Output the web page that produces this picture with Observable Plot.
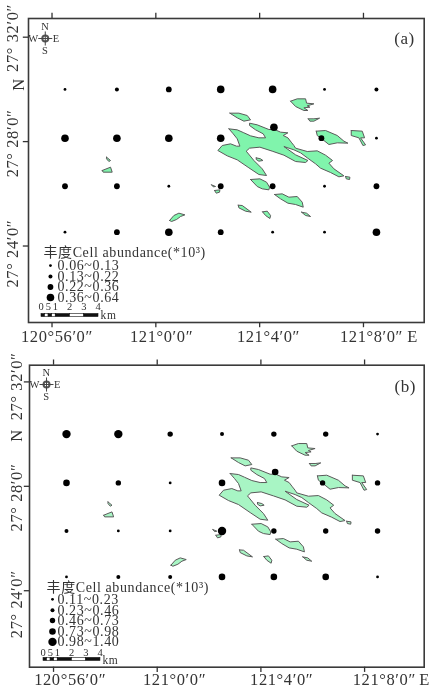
<!DOCTYPE html>
<html>
<head>
<meta charset="utf-8">
<script src="https://cdn.jsdelivr.net/npm/d3@7"></script>
<script src="https://cdn.jsdelivr.net/npm/@observablehq/plot@0.6"></script>
<style>
  html, body { margin: 0; padding: 0; background: #fff; overflow: hidden; }
  svg { display: block; filter: blur(0.35px); }
</style>
</head>
<body>
<div id="chart"></div>
<script>
// Map coordinates: longitude in minutes east of 120°56', latitude in minutes north of 27°24'.
const lonTicks = [0, 4, 8, 12];
const lonTickLabels = ["120°56′0″", "121°0′0″", "121°4′0″", "121°8′0″"];
const latTicks = [0, 4, 8];
const latTickLabels = ["27° 24′0″", "27° 28′0″", "27° 32′0″"];

// Sampling stations, row by row from north to south.
const stationLon = [
  0.5, 2.5, 4.5, 6.5, 8.5, 10.5, 12.5,
  0.5, 2.5, 4.5, 6.5, 8.55, 10.38, 12.5,
  0.5, 2.5, 4.5, 6.5, 8.5, 10.5, 12.5,
  0.5, 2.5, 4.5, 6.5, 8.5, 10.5, 12.5
];
const stationLat = [
  6.0, 6.0, 6.0, 6.0, 6.0, 6.0, 6.0,
  4.13, 4.13, 4.13, 4.13, 4.55, 4.13, 4.13,
  2.29, 2.29, 2.29, 2.29, 2.29, 2.29, 2.29,
  0.53, 0.53, 0.53, 0.53, 0.53, 0.53, 0.53
];
const abundanceA = [
  0.10, 0.18, 0.30, 0.55, 0.45, 0.09, 0.18,
  0.45, 0.45, 0.45, 0.55, 0.50, 0.30, 0.09,
  0.25, 0.30, 0.10, 0.30, 0.25, 0.10, 0.25,
  0.09, 0.30, 0.50, 0.30, 0.12, 0.10, 0.60
];
const abundanceB = [
  1.20, 1.20, 0.60, 0.35, 0.60, 0.60, 0.17,
  0.85, 0.60, 0.17, 0.85, 0.85, 0.60, 0.60,
  0.35, 0.17, 0.17, 1.20, 0.60, 0.60, 0.60,
  0.17, 0.40, 0.40, 0.85, 0.85, 0.85, 0.17
];

// Legends
const classLabelsA = ["0.06~0.13", "0.13~0.22", "0.22~0.36", "0.36~0.64"];
const classValuesA = [0.10, 0.18, 0.30, 0.50];
const classBreaksA = [0.13, 0.22, 0.36];
const classRadiiA = [1.4, 2, 2.9, 3.8];
const classLabelsB = ["0.11~0.23", "0.23~0.46", "0.46~0.73", "0.73~0.98", "0.98~1.40"];
const classValuesB = [0.17, 0.35, 0.60, 0.85, 1.20];
const classBreaksB = [0.23, 0.46, 0.73, 0.98];
const classRadiiB = [1.4, 2, 2.7, 3.3, 4.2];
const legendTitle = "丰度Cell abundance(*10³)";

// Scale bar, in kilometres
const scaleLabels = ["0", "5", "1", "2", "3", "4"];
const scaleLabelKm = [0, 0.5, 1, 2, 3, 4];
const scaleStart = [0, 0.25, 0.5, 0.75, 1, 2, 3];
const scaleEnd = [0.25, 0.5, 0.75, 1, 2, 3, 4];
const scaleDark = [true, false, true, false, true, false, true];
const lonPerKm = 0.549;

// Island outlines on a local survey grid (east, south).
const islandOutlines = [
  [[85,145],[110,148],[128,156],[150,166],[175,172],[195,172],[188,160],[165,148],[147,135],[147,128],[170,133],[205,147],[222,147],[240,155],[262,157],[248,165],[262,172],[272,185],[280,195],[285,203],[320,213],[350,211],[375,224],[396,240],[385,248],[400,265],[430,286],[415,289],[390,276],[360,263],[345,250],[320,232],[300,217],[280,208],[250,198],[285,223],[322,240],[315,246],[285,243],[250,224],[215,212],[178,200],[147,203],[137,212],[160,240],[185,265],[198,285],[175,282],[145,262],[110,238],[80,226],[52,210],[65,195],[90,190],[108,197],[118,197],[110,175],[98,160]],
  [[88,98],[115,98],[140,105],[150,118],[130,122],[110,112]],
  [[167,232],[180,235],[187,240],[175,242],[167,237]],
  [[270,62],[290,55],[315,55],[318,68],[340,70],[320,76],[328,80],[310,82],[322,90],[310,90],[285,78]],
  [[323,115],[340,115],[357,113],[340,122],[328,122]],
  [[347,152],[375,150],[410,165],[430,182],[442,188],[410,187],[385,192],[370,180],[350,165]],
  [[452,150],[485,152],[492,172],[480,172],[495,193],[487,195],[475,172],[452,165]],
  [[435,288],[448,290],[447,297],[437,295]],
  [[150,297],[178,295],[198,305],[207,320],[205,328],[185,325],[170,318]],
  [[222,342],[245,340],[265,350],[290,348],[305,365],[308,380],[285,372],[262,368],[240,355]],
  [[113,374],[125,375],[152,395],[135,392],[115,382]],
  [[186,394],[200,392],[210,405],[208,414],[195,405]],
  [[303,395],[318,398],[330,408],[315,405]],
  [[33,313],[45,318],[38,319]],
  [[42,330],[58,328],[57,335],[47,338]],
  [[-295,270],[-270,260],[-265,275],[-292,275]],
  [[-282,230],[-270,240],[-275,243],[-282,235]],
  [[-93,420],[-80,405],[-65,398],[-47,403],[-60,408],[-72,417],[-87,423]]
];
const gridOriginLon = 5.723, gridOriginLat = 6.341, gridPerMinuteE = 77.85, gridPerMinuteS = 78.3;

const islandRows = islandOutlines.flatMap((ring, island) =>
  [...ring, ring[0]].map(([e, s]) => ({
    island,
    lon: gridOriginLon + e / gridPerMinuteE,
    lat: gridOriginLat - s / gridPerMinuteS
  }))
);

const ink = "#333";
const serif = "'Liberation Serif','Noto Sans CJK SC',serif";

function panel(p) {
  const stations = stationLon.map((lon, i) => ({ lon, lat: stationLat[i], value: p.values[i] }));
  const legendRows = p.classLabels.map((label, i) => ({ label, value: p.classValues[i], lat: p.legendLat[i] }));
  const segments = scaleStart.map((s, i) => ({
    x1: p.barLon + s * lonPerKm, x2: p.barLon + scaleEnd[i] * lonPerKm, dark: scaleDark[i]
  }));
  const scaleText = scaleLabels.map((label, i) => ({ label, lon: p.barLon + scaleLabelKm[i] * lonPerKm }));
  const lonLabels = lonTickLabels.map((label, i) => ({ label, lon: p.lonLabelAt[i] }));
  const latLabels = latTickLabels.map((label, i) => ({ label, lat: p.latLabelAt[i] }));
  const [cLon, cLat] = p.compass;
  const [xMin, xMax] = p.xDomain;
  const [yMin, yMax] = p.yDomain;
  const tickSpan = 0.2;

  return Plot.plot({
    width: 429, height: 346,
    marginLeft: p.marginLeft, marginRight: 5.3, marginTop: p.marginTop, marginBottom: p.marginBottom,
    x: { domain: p.xDomain, axis: null },
    y: { domain: p.yDomain, axis: null },
    r: { type: "threshold", domain: p.breaks, range: p.radii },
    style: { fontFamily: serif, letterSpacing: "0.6px", background: "#fff", color: ink },
    marks: [
      Plot.line(islandRows, { x: "lon", y: "lat", z: "island", fill: p.islandFill, stroke: "#5a5a5a", strokeWidth: 1, curve: "linear" }),
      Plot.dot(stations, { x: "lon", y: "lat", r: "value", fill: "black" }),
      Plot.frame({ stroke: "#3a3a3a", strokeWidth: 1.6 }),
      Plot.ruleX(lonTicks, { y1: yMin, y2: yMin - tickSpan, stroke: ink, strokeWidth: 1.3 }),
      Plot.ruleX(lonTicks, { y1: yMax, y2: yMax + tickSpan, stroke: ink, strokeWidth: 1.3 }),
      Plot.ruleY(latTicks, { x1: xMin, x2: xMin - tickSpan, stroke: ink, strokeWidth: 1.3 }),
      Plot.text(lonLabels, { x: "lon", y: p.xLabelLat, text: "label", fontSize: 16.5, fill: ink }),
      Plot.text(["E"], { x: p.eLon, y: p.xLabelLat, text: d => d, fontSize: 16.5, fill: ink }),
      Plot.text(latLabels, { x: p.yLabelLon, y: "lat", text: "label", rotate: -90, fontSize: 16.5, fill: ink }),
      Plot.text(["N"], { x: p.nAt[0], y: p.nAt[1], text: d => d, rotate: -90, fontSize: 16.5, fill: ink }),
      Plot.text([p.tag], { x: p.tagAt[0], y: p.tagAt[1], text: d => d, fontSize: 17, fill: ink }),
      // compass
      Plot.dot([0], { x: cLon, y: cLat, r: 3, fill: "none", stroke: "#555", strokeWidth: 2 }),
      Plot.link([0], { x1: cLon - 0.27, x2: cLon + 0.27, y1: cLat, y2: cLat, stroke: "#444", strokeWidth: 1 }),
      Plot.link([0], { x1: cLon, x2: cLon, y1: cLat - 0.27, y2: cLat + 0.27, stroke: "#444", strokeWidth: 1 }),
      Plot.text(["N"], { x: cLon, y: cLat + 0.46, text: d => d, fontSize: 10.5, fill: ink }),
      Plot.text(["S"], { x: cLon, y: cLat - 0.46, text: d => d, fontSize: 10.5, fill: ink }),
      Plot.text(["W"], { x: cLon - 0.45, y: cLat, text: d => d, fontSize: 10.5, fill: ink }),
      Plot.text(["E"], { x: cLon + 0.42, y: cLat, text: d => d, fontSize: 10.5, fill: ink }),
      // legend
      Plot.text([legendTitle], { x: p.legendTitleAt[0], y: p.legendTitleAt[1], text: d => d, textAnchor: "start", fontSize: 14, fill: ink }),
      Plot.dot(legendRows, { x: p.legendDotLon, y: "lat", r: "value", fill: "black" }),
      Plot.text(legendRows, { x: p.legendTextLon, y: "lat", text: "label", textAnchor: "start", fontSize: 14, fill: ink }),
      // scale bar
      Plot.rect(segments, { x1: "x1", x2: "x2", y1: p.barLat[0], y2: p.barLat[1], fill: d => (d.dark ? "#111" : "#fff"), stroke: "#111", strokeWidth: 0.6 }),
      Plot.text(scaleText, { x: "lon", y: p.scaleTextLat, text: "label", fontSize: 10.5, fill: ink }),
      Plot.text(["km"], { x: p.kmAt[0], y: p.kmAt[1], text: d => d, textAnchor: "start", fontSize: 11.5, fill: ink })
    ]
  });
}

const chart = document.getElementById("chart");
chart.append(panel({
  tag: "(a)", values: abundanceA,
  classLabels: classLabelsA, classValues: classValuesA, breaks: classBreaksA, radii: classRadiiA,
  marginLeft: 28, marginTop: 18, marginBottom: 24,
  xDomain: [-0.906, 14.34], yDomain: [-2.93, 8.716],
  islandFill: "#80f4ac",
  lonLabelAt: [0.19, 4.22, 8.34, 12.31], latLabelAt: [-0.29, 3.93, 7.97],
  xLabelLat: -3.49, eLon: 13.89, yLabelLon: -1.5, nAt: [-1.27, 6.19], tagAt: [13.58, 7.95],
  compass: [-0.26, 7.95],
  legendTitleAt: [-0.33, -0.25], legendLat: [-0.75, -1.17, -1.57, -1.97], legendDotLon: -0.06, legendTextLon: 0.21,
  barLon: -0.405, barLat: [-2.605, -2.72], scaleTextLat: -2.32, kmAt: [1.87, -2.66]
}));
chart.append(panel({
  tag: "(b)", values: abundanceB,
  classLabels: classLabelsB, classValues: classValuesB, breaks: classBreaksB, radii: classRadiiB,
  marginLeft: 29, marginTop: 18.7, marginBottom: 25.3,
  xDomain: [-0.927, 14.3], yDomain: [-2.93, 8.64],
  islandFill: "#a8f5c4",
  lonLabelAt: [0.64, 4.67, 8.8, 12.76], latLabelAt: [-0.52, 3.57, 7.83],
  xLabelLat: -3.42, eLon: 14.32, yLabelLon: -1.43, nAt: [-1.41, 5.95], tagAt: [13.57, 7.83],
  compass: [-0.27, 7.9],
  legendTitleAt: [-0.27, 0.13], legendLat: [-0.33, -0.75, -1.14, -1.56, -1.96], legendDotLon: -0.04, legendTextLon: 0.15,
  barLon: -0.386, barLat: [-2.575, -2.69], scaleTextLat: -2.36, kmAt: [1.89, -2.67]
}));
</script>
</body>
</html>
